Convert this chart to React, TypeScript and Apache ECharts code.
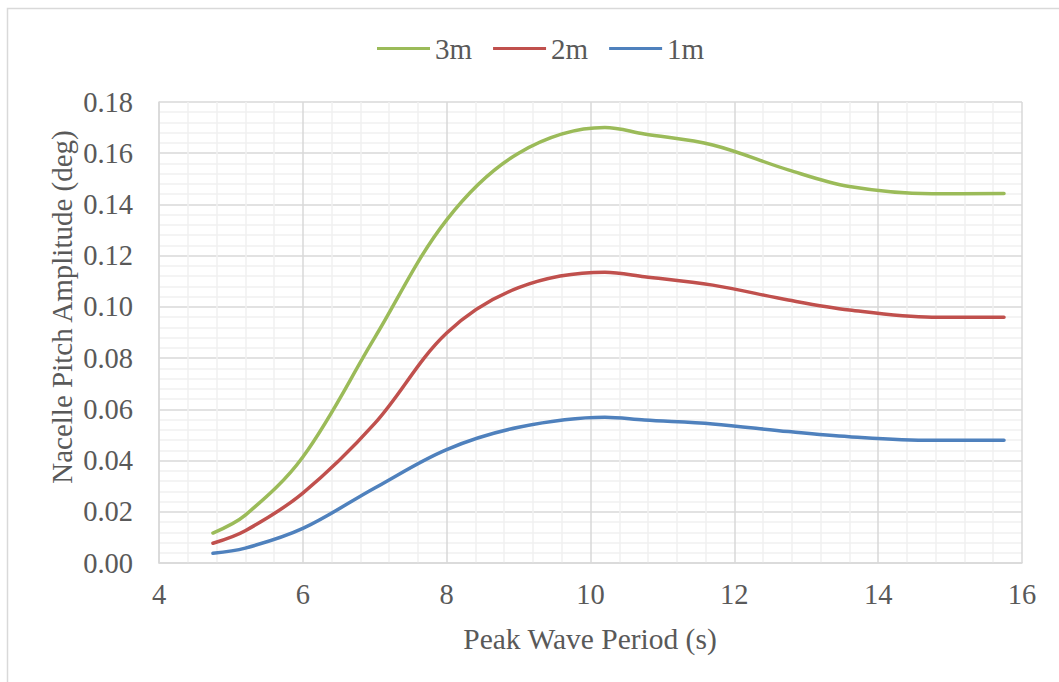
import React, { useEffect, useRef } from "react";
import * as echarts from "echarts";

const periods = [4.75, 5.2, 6, 7, 8, 9, 10.2, 10.75, 11.7, 12.75, 13.6, 14.75, 15.75];
const amp3m = [0.0117, 0.0187, 0.0414, 0.0880, 0.134, 0.160, 0.170, 0.1675, 0.1632, 0.1535, 0.147, 0.1442, 0.1443];
const amp2m = [0.0077, 0.0126, 0.0273, 0.0545, 0.0898, 0.1075, 0.1135, 0.1118, 0.1085, 0.1027, 0.0988, 0.0960, 0.0960];
const amp1m = [0.0038, 0.0058, 0.0135, 0.0293, 0.0443, 0.0530, 0.0569, 0.0558, 0.0543, 0.0513, 0.0493, 0.0479, 0.0479];

const seriesNames = ["3m", "2m", "1m"];
const seriesColors = ["#9BBB59", "#C0504D", "#4F81BD"];
const seriesValues = [amp3m, amp2m, amp1m];

const xTitle = "Peak Wave Period (s)";
const yTitle = "Nacelle Pitch Amplitude (deg)";

const FONT = "Liberation Serif, Times New Roman, serif";
const TXT = "#595959";

export default function App() {
  const ref = useRef<HTMLDivElement>(null);
  useEffect(() => {
    if (!ref.current) return;
    const chart = echarts.init(ref.current, null, { renderer: "svg" });
    chart.setOption({
      animation: false,
      backgroundColor: "#ffffff",
      textStyle: { fontFamily: FONT },
      legend: {
        left: 372,
        top: 29,
        icon: "rect",
        itemWidth: 53,
        itemHeight: 3,
        itemGap: 21,
        textStyle: { fontFamily: FONT, fontSize: 29, color: TXT },
        data: seriesNames,
      },
      grid: { left: 159, right: 37, top: 102, bottom: 119, containLabel: false },
      xAxis: {
        type: "value",
        min: 4,
        max: 16,
        interval: 2,
        axisLine: { show: true, lineStyle: { color: "#d9d9d9", width: 1.5 } },
        axisTick: { show: false },
        axisLabel: { margin: 17, fontFamily: FONT, fontSize: 28.5, color: TXT },
        splitLine: { show: true, lineStyle: { color: "#d9d9d9", width: 1.5 } },
        minorTick: { show: false, splitNumber: 5 },
        minorSplitLine: { show: true, lineStyle: { color: "#f0f0f0", width: 1.5 } },
      },
      yAxis: {
        type: "value",
        min: 0,
        max: 0.18,
        interval: 0.02,
        axisLine: { show: true, lineStyle: { color: "#d9d9d9", width: 1.5 } },
        axisTick: { show: false },
        axisLabel: {
          margin: 26,
          fontFamily: FONT,
          fontSize: 28.5,
          color: TXT,
          formatter: (v: number) => v.toFixed(2),
        },
        splitLine: { show: true, lineStyle: { color: "#d9d9d9", width: 1.5 } },
        minorTick: { show: false, splitNumber: 5 },
        minorSplitLine: { show: true, lineStyle: { color: "#f0f0f0", width: 1.5 } },
      },
      graphic: [
        {
          type: "rect",
          silent: true,
          shape: { x: 7.5, y: 8.5, width: 1200, height: 900 },
          style: { fill: "none", stroke: "#d9d9d9", lineWidth: 1.5 },
          z: -1,
        },
        {
          type: "text",
          x: 590,
          y: 639,
          style: {
            text: xTitle,
            fontFamily: FONT,
            fontSize: 29.5,
            fill: TXT,
            align: "center",
            verticalAlign: "middle",
          },
        },
        {
          type: "text",
          x: 62,
          y: 307,
          rotation: Math.PI / 2,
          style: {
            text: yTitle,
            fontFamily: FONT,
            fontSize: 29,
            fill: TXT,
            align: "center",
            verticalAlign: "middle",
          },
        },
      ],
      series: seriesNames.map((name, i) => ({
        name,
        type: "line",
        smooth: 0.35,
        showSymbol: false,
        symbol: "none",
        color: seriesColors[i],
        lineStyle: { color: seriesColors[i], width: 3.5, cap: "round" },
        data: periods.map((p, j) => [p, seriesValues[i][j]]),
      })),
    });
    return () => chart.dispose();
  }, []);
  return (
    <div
      ref={ref}
      style={{ position: "fixed", left: 0, top: 0, width: 1059, height: 682, background: "#fff" }}
    />
  );
}
